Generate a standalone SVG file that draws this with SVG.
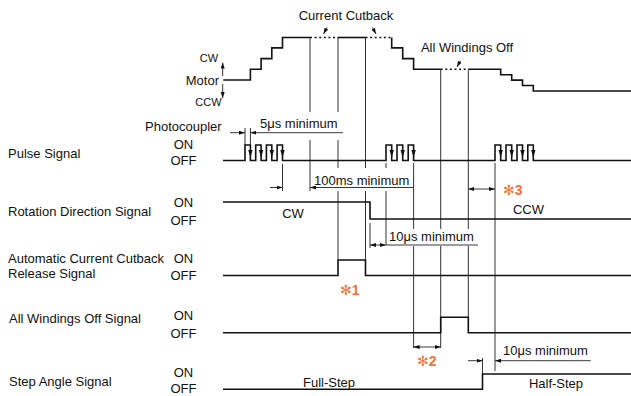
<svg xmlns="http://www.w3.org/2000/svg" width="631" height="396" viewBox="0 0 631 396">
<defs>
<style>
text{font-family:"Liberation Sans",Arial,sans-serif;font-size:13px;fill:#111}
.c{text-anchor:middle}
.sm{font-size:11px}
.s{fill:none;stroke:#111;stroke-width:1.6}
.dot{fill:none;stroke:#111;stroke-width:1.6;stroke-dasharray:2 2.6}
.g{fill:none;stroke:#333;stroke-width:1}
.d{fill:none;stroke:#222;stroke-width:0.9}
.note{font-family:"Liberation Sans","DejaVu Sans",sans-serif;font-weight:bold;fill:#f07238;font-size:14px}
</style>
<marker id="ah" viewBox="0 0 6 4" refX="6" refY="2" markerWidth="6" markerHeight="4" orient="auto-start-reverse" markerUnits="userSpaceOnUse"><path d="M0,0L6,2L0,4Z" fill="#111"/></marker>
<path id="fa" d="M-2.2,150 L2.2,150 L0,157.5 Z" fill="#111"/>
</defs>
<rect width="631" height="396" fill="#fff"/>

<g id="connectors">
<path class="g" d="M245,128V145 M250.4,128V145"/>
<path class="g" d="M282.5,164V191"/>
<path class="g" d="M310,37.5V112 M310,140V191"/>
<path class="g" d="M338,37.5V112 M338,140V168 M338,191V260"/>
<path class="g" d="M365.5,37.5V168 M365.5,191V260"/>
<path class="g" d="M386,163V168 M386,191V245"/>
<path class="g" d="M370,223V248"/>
<path class="g" d="M413.6,163V229 M413.6,246V348"/>
<path class="g" d="M440.7,69.3V229 M440.7,246V348"/>
<path class="g" d="M468.3,69.3V229 M468.3,246V317"/>
<path class="g" d="M495,163V371"/>
<path class="g" d="M482.5,358V374"/>
<path class="d" d="M230,132.7H245" marker-end="url(#ah)"/>
<path class="d" d="M343,132.7H250.4" marker-end="url(#ah)"/>
<path class="d" d="M270,187.5H282.5" marker-end="url(#ah)"/>
<path class="d" d="M413.6,187.5H310" marker-end="url(#ah)"/>
<path class="d" d="M370,245H386" marker-start="url(#ah)" marker-end="url(#ah)"/>
<path class="d" d="M386,245H478"/>
<path class="d" d="M468.3,189H495" marker-start="url(#ah)" marker-end="url(#ah)"/>
<path class="d" d="M413.6,347H440.7" marker-start="url(#ah)" marker-end="url(#ah)"/>
<path class="d" d="M468,360.7H482.5" marker-end="url(#ah)"/>
<path class="d" d="M590.7,360.7H495" marker-end="url(#ah)"/>
<path class="d" d="M327,27.5L323.5,34" marker-end="url(#ah)"/>
<path class="d" d="M372.5,27.5L376,34" marker-end="url(#ah)"/>
<path class="d" d="M460.5,60.5L457,67" marker-end="url(#ah)"/>
<path class="d" d="M222.7,76V62.5" marker-end="url(#ah)"/>
<path class="d" d="M222.7,84V98" marker-end="url(#ah)"/>
</g>

<g id="motor">
<path class="s" d="M223.3,80H250.4V69.3H261.1V58.6H271.8V47.9H282.5V37.5H310"/>
<path class="dot" d="M310,37.5H338"/>
<path class="s" d="M338,37.5H365.5"/>
<path class="dot" d="M365.5,37.5H391.7"/>
<path class="s" d="M391.7,37.5V47.9H402.7V58.6H413.6V69.3H440.7"/>
<path class="dot" d="M440.7,69.3H468.3"/>
<path class="s" d="M468.3,69.3H500.7V74.7H511.7V80.1H522.5V85.5H533.3V91H631"/>
<text x="219" y="85" text-anchor="end">Motor</text>
<text class="sm c" x="209" y="62">CW</text>
<text class="sm c" x="208.5" y="106">CCW</text>
<text class="c" x="346" y="20">Current Cutback</text>
<text class="c" x="467" y="52">All Windings Off</text>
</g>

<g id="pulse-signal">
<path class="s" d="M223,160.5H245V145H250.4V160.5H255.7V145H261.1V160.5H266.4V145H271.8V160.5H277.1V145H282.5V160.5H386V145H391.7V160.5H397V145H402.7V160.5H408.2V145H413.6V160.5H495V145H500.7V160.5H506V145H511.7V160.5H517V145H522.5V160.5H527.8V145H533.3V160.5H631"/>
<use href="#fa" x="250.4"/><use href="#fa" x="261.1"/><use href="#fa" x="271.8"/><use href="#fa" x="282.5"/>
<use href="#fa" x="391.7"/><use href="#fa" x="402.7"/><use href="#fa" x="413.6"/>
<use href="#fa" x="500.7"/><use href="#fa" x="511.7"/><use href="#fa" x="522.5"/><use href="#fa" x="533.3"/>
<text x="8" y="158">Pulse Signal</text>
<text x="145" y="131">Photocoupler</text>
<text class="c" x="183.5" y="149">ON</text>
<text class="c" x="183.5" y="165">OFF</text>
<text x="260" y="128">5μs minimum</text>
<text x="314" y="185">100ms minimum</text>
</g>

<g id="rotation-direction-signal">
<path class="s" d="M223,202H370V219H631"/>
<text x="8" y="216">Rotation Direction Signal</text>
<text class="c" x="183.5" y="207">ON</text>
<text class="c" x="183.5" y="225">OFF</text>
<text class="c" x="293" y="218">CW</text>
<text class="c" x="528.5" y="214">CCW</text>
<text x="389" y="241">10μs minimum</text>
<text class="note" x="503" y="195">✻3</text>
</g>

<g id="current-cutback-release-signal">
<path class="s" d="M223,275.5H338V260H365.5V275.5H631"/>
<text x="8" y="263">Automatic Current Cutback</text>
<text x="8" y="278">Release Signal</text>
<text class="c" x="183.5" y="263">ON</text>
<text class="c" x="183.5" y="280">OFF</text>
<text class="note" x="340" y="295">✻1</text>
</g>

<g id="all-windings-off-signal">
<path class="s" d="M223,332.7H440.7V317.3H468.3V332.7H631"/>
<text x="9" y="323">All Windings Off Signal</text>
<text class="c" x="183.5" y="320">ON</text>
<text class="c" x="183.5" y="338">OFF</text>
<text class="note" x="417" y="366">✻2</text>
</g>

<g id="step-angle-signal">
<path class="s" d="M223,389.3H482.5V374H631"/>
<text x="9" y="386">Step Angle Signal</text>
<text class="c" x="183.5" y="377">ON</text>
<text class="c" x="183.5" y="393">OFF</text>
<text class="c" x="329" y="387">Full-Step</text>
<text class="c" x="556" y="388">Half-Step</text>
<text x="503" y="355">10μs minimum</text>
</g>
</svg>
